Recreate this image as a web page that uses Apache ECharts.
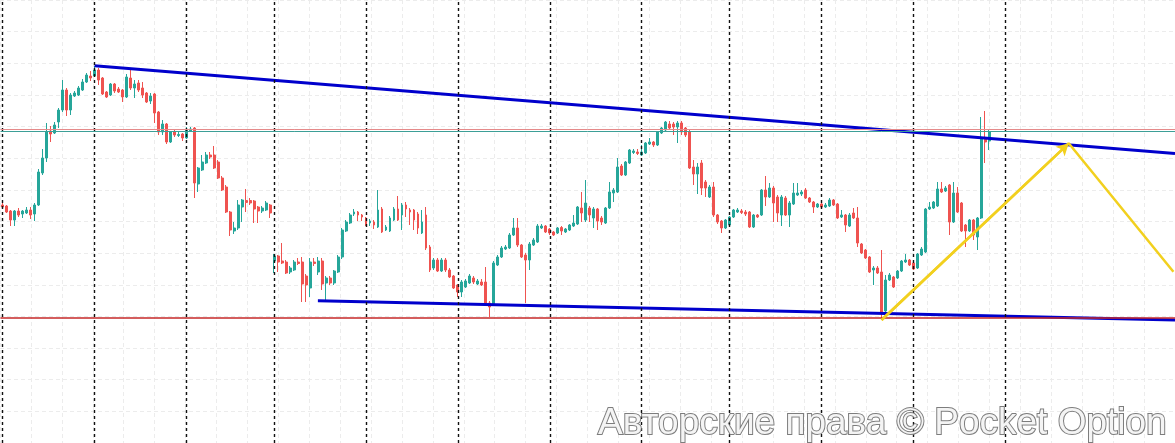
<!DOCTYPE html>
<html>
<head>
<meta charset="utf-8">
<script src="https://cdn.jsdelivr.net/npm/echarts@6/dist/echarts.min.js"></script>
<style>
html,body{margin:0;padding:0;background:#ffffff;}
#c{width:1175px;height:443px;}
</style>
</head>
<body>
<div id="c"></div>
<script>
// ---- candle values (price points) ----
const open = [
245,244,239,230,239,236,237,240,236,245,
277,292,319,317,328,340,360,340,354,355,
360,368,374,374,380,372,358,355,366,361,
360,353,372,362,367,362,357,349,356,338,
318,326,308,318,314.5,316,312,319,322,266,
280,287,295,295,288,272,263,238,219,222,
243,249.5,249.5,249,243,239,240,245,189,194,
189,188,178,180,188,188,174,162,188,178,
189,167,172,167,178,193,219,227,236,238,
235,232,227,228,223,241,220,219,230,241,
235,245,240,240,236,217,235,203,182,190,
179,190,180,174,165,158,163,167,172,166,
168,168,147,146,185,193,201,202,215,222,
205,195,190,205,208,222,224,221,218,217,
222.5,218,220,224,226,242,230,242,232,241,
232,227,242,257,258,284,275,287,297.5,298,
295,297,306,308,305,317,320,326,326,323,
327,322,318,283,276,287,268,253,263,235,
229,222,225,233,238,239,238,238,223,235,
235,260,253,262,253,235,252,235,246,255,
256,260,252,248,243,246,243,244,250,246,
233,235,224,237,232,206,200,193,180,182,
178,139,170,173,172,179,188,190,187,182,
195,198,241,242,244,261,259,265,228,257,
247,225,219,230,213,232,312,309
];
const close = [
243,238,230,239,235,239,240,235,245,278,
292,318,316,325,340,360,340,355,357,362,
368,375,372,380,370,356,353,366,359,358,
353,373,362,366,360,355,348,354,337,318,
326,308,318,315,315.5,312,320,321,267,282,
288,295,293,282,272,260,238,220,222,245,
250,247.5,247,241,239,242,247,237,194,188,
187,177,182,188,186.5,166,165,188,186.5,189,
166,172,167,179,193,220,228,235,238,235,
233,226,229,225,240,218,223,232,241,230,
245,241,238,230,222,228,202,180,190,179,
190,180,173,162,158,168,169,174,168,169,
165,147,143,187,193,202,203,215,222,205,
193,190,206,210,224,224,218,217,215,222,
219,221,225,227,243,237,247,235,241,229,
228,242,258,260,283,275,288,300,299,296.5,
298,307,308,305,318,322,328,322,323,327,
318,315,282,276,283,262,262,263,235,228,
222,230,233,240,240,237.5,236,223,235,233,
260,253,262,247,237,253,235,247,257,257,
258,252,248,243,246,243,245,250,245,232,
235,225,235,232,207,197,192,178,182,177,
138,170,175,163,179,189,190,185,181,196,
201,241,243,248,261,258,262,228,257,238,
219,219,230,215,232,312,308,318
];
const low = [
241,237,224,224,233,232,236,231,229,244,
275,288,308,316,322,338,334,335,353,354,
359,367,369,373,365,355,352,354,357,357,
348,352,360,352,358,352,347,346,327,315,
315,306,307,313,313,309,311,318,252,258,
279,286,291,281,271,259,237,214,216,220,
228,238,245,227,227,237,239,232,177,178,
186,176,176,179,185,148,148,153,184,175,
160,150,165,165,177,191,218,226,234,229,
229,224,224,221,222,217,219,218,229,229,
220,233,225,220,216,216,200,178,180,178,
178,178,172,161,153,153,162,166,166,165,
164,145,133,145,184,192,200,201,214,203,
192,147,180,204,207,221,217,215,214,216,
215,217,219,223,225,228,228,228,222,220,
225,226,241,248,257,274,274,286,296,295,
294,296,305,303,304,316,319,321,315,307,
315,313,281,265,256,255,253,252,233,226,
217,221,224,232,237,236,234,222,222,232,
234,244,252,228,228,224,234,223,245,254,
254,251,247,237,242,242,242,243,244,231,
232,218,223,231,203,196,191,177,165,176,
130,138,169,162,171,178,187,184,180,181,
194,197,240,241,243,257,258,215,227,237,
218,203,218,210,200,231,287,300
];
const high = [
247,245,240,240,242,240,243,243,247,281,
301,327,324,328,342,370,362,357,359,364,
371,377,379,384,382,373,359,367,367,363,
361,376,380,370,370,368,358,357,357,339,
330,327,319,320,319,317,323,323,323,283,
295,298,298,304,290,274,265,239,228,250,
251,261,252,250,244,244,249,246,196,195,
207,190,184,190,192,193,176,192,192,193,
192,174,174,180,195,222,230,237,241,239,
236,233,231,230,260,243,225,234,243,254,
247,248,242,241,238,240,243,205,192,192,
192,192,182,175,166,170,171,176,174,171,
171,183,149,189,195,204,205,217,232,232,
206,197,208,212,226,226,225,222,219,223,
224,222,226,235,244,258,270,244,243,242,
234,243,268,262,292,286,289,301,301,301,
305,308,312,309,319,323,329,329,328,329,
329,323,320,290,287,290,270,265,268,236,
230,231,234,241,242,241,240,239,236,236,
261,274,267,264,255,255,254,249,267,267,
260,262,253,249,247,248,247,252,251,247,
240,236,237,242,243,207,201,194,184,184,
200,175,177,174,180,190,196,191,188,197,
203,242,248,249,268,268,264,266,268,263,
248,226,231,231,233,333,339,320
];

// number of bar slots on the time axis (chart leaves empty space at the right)
const slotCount = 294;
const categories = Array.from({length: slotCount}, (_, i) => 'T' + i);

// session separators (bar index of the dashed vertical lines)
const separators = [0, 23, 46, 68, 91, 114, 137, 160, 182, 205, 228, 251];

// horizontal levels
const levelUpperA = 321;   // light red level
const levelUpperB = 318.7; // teal level
const levelLower = 132.7;  // red support level

// drawn trend lines: [barIndex, price]
const upperTrend = [[23.05, 384.3], [293.5, 296.6]];
const lowerTrend = [[78.95, 149.3], [293.5, 130.0]];
const forecast = [[220.05, 130.0], [266.9, 306.7], [293.1, 178.3]];

const candles = open.map((o, i) => [o, close[i], low[i], high[i]]);

const chart = echarts.init(document.getElementById('c'), null, {renderer: 'canvas'});
chart.setOption({
  animation: false,
  backgroundColor: '#ffffff',
  grid: [
    {left: 0.5, right: -1.5, top: 0, bottom: 0},
    {left: -17.5, right: -23.5, top: -0.95, bottom: -6.15}
  ],
  xAxis: [
    {type: 'category', gridIndex: 0, data: categories, boundaryGap: true, show: false},
    {type: 'value', gridIndex: 0, min: -0.5, max: slotCount - 0.5, show: false},
    {type: 'value', gridIndex: 1, min: 0, max: 1216, interval: 32,
      axisLine: {show: false}, axisTick: {show: false}, axisLabel: {show: false},
      splitLine: {show: true, lineStyle: {color: '#ececec', type: [4, 3], width: 1}}}
  ],
  yAxis: [
    {type: 'value', gridIndex: 0, min: 7, max: 450, show: false},
    {type: 'value', gridIndex: 1, min: 0, max: 14, interval: 1,
      axisLine: {show: false}, axisTick: {show: false}, axisLabel: {show: false},
      splitLine: {show: true, lineStyle: {color: '#ececec', type: [4, 3], width: 1}}}
  ],
  series: [
    {
      type: 'candlestick',
      xAxisIndex: 0, yAxisIndex: 0,
      data: candles,
      barWidth: 2.4,
      itemStyle: {
        color: '#26a69a', color0: '#ef5350',
        borderColor: '#26a69a', borderColor0: '#ef5350',
        borderWidth: 1
      },
      markLine: {
        silent: true,
        symbol: ['none', 'none'],
        label: {show: false},
        animation: false,
        data: [
          ...separators.map(i => ({xAxis: i, lineStyle: {color: '#111111', type: [3, 3], width: 1.4}})),
          {yAxis: levelUpperA, lineStyle: {color: '#e58a8a', type: 'solid', width: 1}},
          {yAxis: levelUpperB, lineStyle: {color: '#3d9f97', type: 'solid', width: 1}},
          {yAxis: levelLower, lineStyle: {color: '#c62828', type: 'solid', width: 1.5}}
        ]
      }
    },
    {
      type: 'line', xAxisIndex: 1, yAxisIndex: 0,
      data: upperTrend, showSymbol: false, silent: true,
      lineStyle: {color: '#0000cc', width: 3}
    },
    {
      type: 'line', xAxisIndex: 1, yAxisIndex: 0,
      data: lowerTrend, showSymbol: false, silent: true,
      lineStyle: {color: '#0000cc', width: 3}
    },
    {
      type: 'line', xAxisIndex: 1, yAxisIndex: 0,
      data: forecast, showSymbol: false, silent: true,
      lineStyle: {color: '#f2d01e', width: 2.5},
      markLine: {
        silent: true,
        label: {show: false},
        lineStyle: {color: '#f2d01e', width: 2.5, type: 'solid'},
        data: [[
          {coord: forecast[0], symbol: 'none'},
          {coord: forecast[1], symbol: 'arrow', symbolSize: [10, 12]}
        ]]
      }
    }
  ],
  graphic: [
    {
      type: 'text',
      left: 597, top: 404, z: 100,
      style: {
        text: 'Авторские права © Pocket Option',
        font: '37px "Liberation Sans", Arial, sans-serif',
        fill: '#f4f4f4',
        stroke: '#7d7d7d',
        lineWidth: 2,
        shadowBlur: 4,
        shadowColor: 'rgba(0,0,0,0.35)'
      }
    }
  ]
});
</script>
</body>
</html>
